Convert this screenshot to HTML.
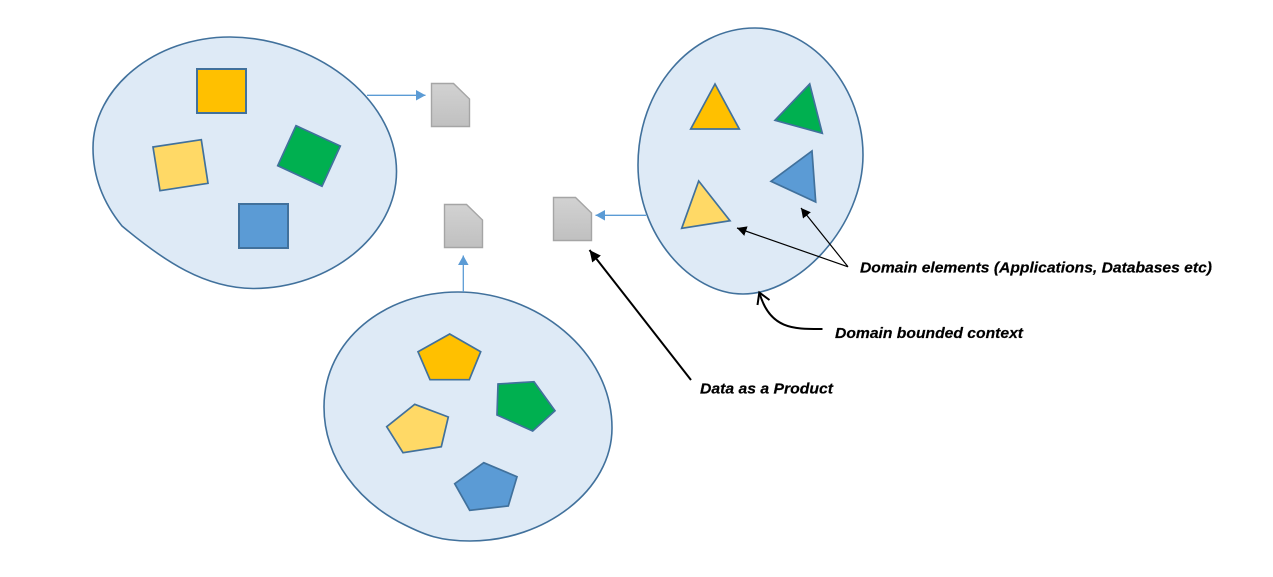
<!DOCTYPE html>
<html>
<head>
<meta charset="utf-8">
<style>
html,body{margin:0;padding:0;background:#fff;width:1273px;height:577px;overflow:hidden}
svg{display:block}
text{font-family:"Liberation Sans",sans-serif;font-weight:bold;font-style:italic;font-size:15px;fill:#000;stroke:#000;stroke-width:.2}
</style>
</head>
<body>
<svg width="1273" height="577" viewBox="0 0 1273 577" xmlns="http://www.w3.org/2000/svg">
<defs>
<linearGradient id="g" x1="0" y1="0" x2="0" y2="1"><stop offset="0" stop-color="#d2d2d2"/><stop offset="1" stop-color="#c0c0c0"/></linearGradient>
<marker id="bh" markerUnits="userSpaceOnUse" markerWidth="11" markerHeight="11" refX="9.500" refY="5.250" orient="auto"><path d="M0,0 L9.500,5.250 L0,10.500Z" fill="#5b9bd5"/></marker>
<marker id="kh" markerUnits="userSpaceOnUse" markerWidth="12" markerHeight="12" refX="9.500" refY="5" orient="auto"><path d="M0,0 L9.500,5 L0,10Z" fill="#000"/></marker>
<marker id="kl" markerUnits="userSpaceOnUse" markerWidth="14" markerHeight="14" refX="11.500" refY="6" orient="auto"><path d="M0,0.500 L11.500,6 L0,11.500Z" fill="#000"/></marker>
</defs>

<g fill="#deeaf6" stroke="#41719c" stroke-width="1.6">
<path d="M230,37 C310,37 396,95 396.500,171 C397,235 330,288.500 253,288.500 C205,288 165,262 122,226 C105,205 93,180 93,148 C93,88 155,37 230,37Z"/>
<path d="M755,28 C815,28 863,90 863,155 C863,225 800,294 743,294 C690,294 638,235 638,165 C638,90 690,28 755,28Z"/>
<path d="M458,292 C535,292 612,350 612,428 C612,490 545,541 470,541 C440,541 425,535 405,525 C360,503 324,460 324,407 C324,340 385,292 458,292Z"/>
</g>

<g stroke="#41719c" stroke-width="1.700">
<rect x="197" y="69" width="49" height="44" fill="#ffc000" stroke-width="2"/>
<path d="M153,147 L201.300,139.700 L208,183.300 L160,190.700Z" fill="#ffd966"/>
<path d="M296,125.700 L340.300,146 L322,186.300 L277.700,165.700Z" fill="#00b050"/>
<rect x="239" y="204" width="49" height="44" fill="#5b9bd5" stroke-width="2"/>

<path d="M715,84 L739.300,129 L690.700,129Z" fill="#ffc000"/>
<path d="M809.700,84 L822.300,133.300 L775,120.300Z" fill="#00b050"/>
<path d="M812,151 L815.700,202 L771,181.300Z" fill="#5b9bd5"/>
<path d="M698.700,181 L730,220.700 L681.700,228.300Z" fill="#ffd966"/>

<path d="M449.700,334 L480.700,351.700 L469.300,379.700 L430,379.700 L418,351.700Z" fill="#ffc000"/>
<path d="M498,384 L534,381.700 L555,410.700 L532.700,431 L497,415Z" fill="#00b050"/>
<path d="M414.700,404.300 L448.300,417 L441.300,446.700 L403,452.700 L386.700,426.700Z" fill="#ffd966"/>
<path d="M483.700,462.700 L517,476.700 L508.300,506 L469.700,510.300 L454.700,483.700Z" fill="#5b9bd5"/>
</g>

<g fill="url(#g)" stroke="#a5a5a5" stroke-width="1.400">
<path d="M431.500,83.500 L453.500,83.500 L469.500,99 L469.500,126.500 L431.500,126.500Z"/>
<path d="M444.500,204.500 L466.500,204.500 L482.500,220 L482.500,247.500 L444.500,247.500Z"/>
<path d="M553.500,197.500 L575.500,197.500 L591.500,213 L591.500,240.500 L553.500,240.500Z"/>
</g>

<g stroke="#5b9bd5" stroke-width="1.300" fill="none">
<path d="M367,95.300 L425.500,95.300" marker-end="url(#bh)"/>
<path d="M463.300,292 L463.300,255.500" marker-end="url(#bh)"/>
<path d="M646,215.300 L595.500,215.300" marker-end="url(#bh)"/>
</g>

<g stroke="#000" fill="none">
<path d="M848,266.800 L737,228" stroke-width="1.200" marker-end="url(#kh)"/>
<path d="M848,266.800 L801,208" stroke-width="1.200" marker-end="url(#kh)"/>
<path d="M691,380 L589.500,250" stroke-width="2" marker-end="url(#kl)"/>
<path d="M822.500,329 C795,329 770,330 759.500,293" stroke-width="2"/>
<path d="M757.500,305 L759.300,292.500 L769.500,300" stroke-width="2"/>
</g>

<text x="860" y="272.500" textLength="352" lengthAdjust="spacingAndGlyphs">Domain elements (Applications, Databases etc)</text>
<text x="835" y="338" textLength="188" lengthAdjust="spacingAndGlyphs">Domain bounded context</text>
<text x="700" y="393.500" textLength="133" lengthAdjust="spacingAndGlyphs">Data as a Product</text>
</svg>
</body>
</html>
